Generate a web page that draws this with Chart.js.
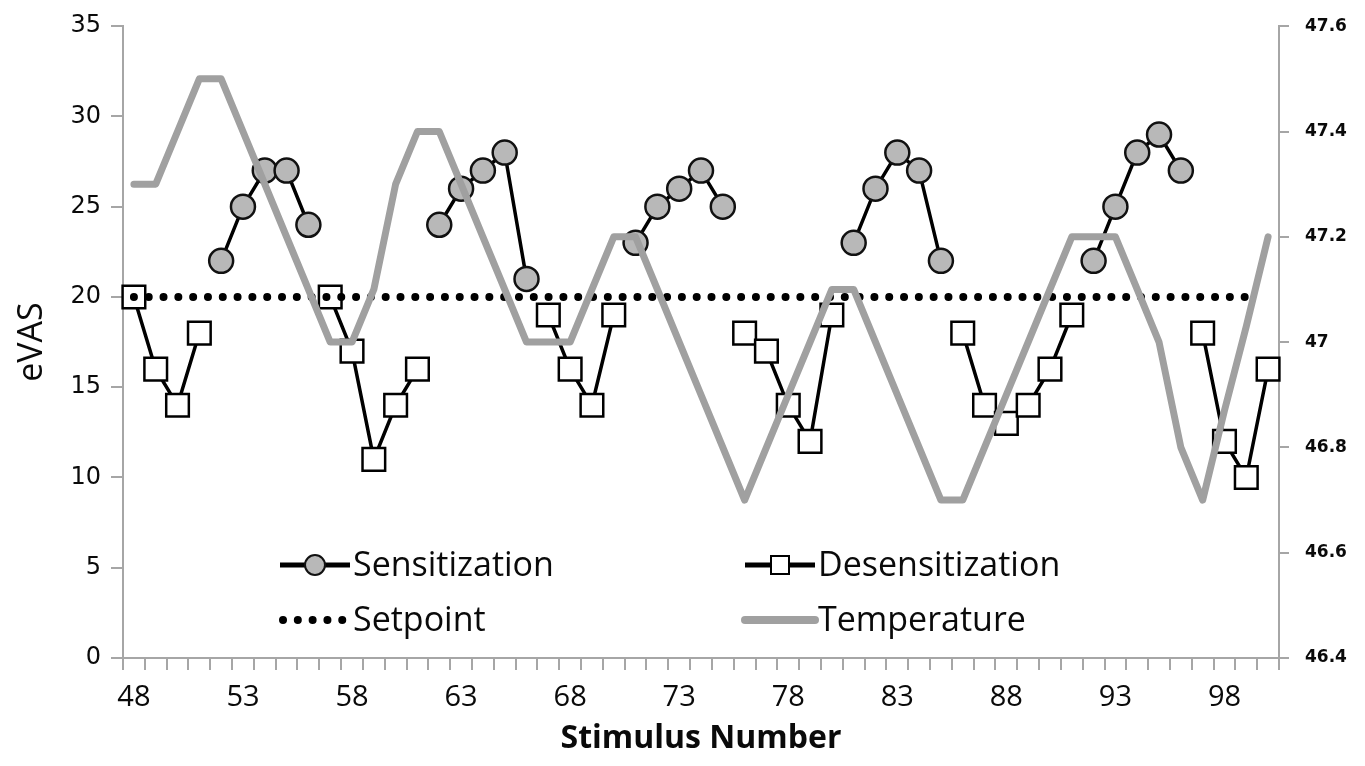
<!DOCTYPE html>
<html lang="en">
<head>
<meta charset="utf-8">
<title>eVAS by stimulus number</title>
<script src="https://cdn.jsdelivr.net/npm/chart.js"></script>
<style>
  body { margin:0; background:#fff; }
  #wrap { width:1365px; height:766px; }
</style>
</head>
<body>
<div id="wrap"><canvas id="myChart"></canvas></div>
<script>
// stimulus numbers on the x axis
var stimulus = [48,49,50,51,52,53,54,55,56,57,58,59,60,61,62,63,64,65,66,67,68,69,70,71,72,73,74,
                75,76,77,78,79,80,81,82,83,84,85,86,87,88,89,90,91,92,93,94,95,96,97,98,99,100];
var xTickLabels = ['48','53','58','63','68','73','78','83','88','93','98'];

// eVAS ratings (left axis)
var sensitization = [null,null,null,null,22,25,27,27,24,null,null,null,null,null,24,26,27,28,21,
                     null,null,null,null,23,25,26,27,25,null,null,null,null,null,23,26,28,27,22,
                     null,null,null,null,null,null,22,25,28,29,27,null,null,null,null];
var desensitization = [20,16,14,18,null,null,null,null,null,20,17,11,14,16,null,null,null,null,null,
                       19,16,14,19,null,null,null,null,null,18,17,14,12,19,null,null,null,null,null,
                       18,14,13,14,16,19,null,null,null,null,null,18,12,10,16];
var setpoint = [20,20,20,20,20,20,20,20,20,20,20,20,20,20,20,20,20,20,20,20,20,20,20,20,20,20,20,
                20,20,20,20,20,20,20,20,20,20,20,20,20,20,20,20,20,20,20,20,20,20,20,20,20,null];
var evasTicks = [0,5,10,15,20,25,30,35];

// stimulus temperature (right axis)
var temperature = [47.3,47.3,47.4,47.5,47.5,47.4,47.3,47.2,47.1,47.0,47.0,47.1,47.3,47.4,47.4,47.3,
                   47.2,47.1,47.0,47.0,47.0,47.1,47.2,47.2,47.1,47.0,46.9,46.8,46.7,46.8,46.9,47.0,
                   47.1,47.1,47.0,46.9,46.8,46.7,46.7,46.8,46.9,47.0,47.1,47.2,47.2,47.2,47.1,47.0,
                   46.8,46.7,46.87,47.03,47.2];
var tempTicks = ['46.4','46.6','46.8','47','47.2','47.4','47.6'];

var axisGrey = '#a6a6a6';
var txt = '#0a0a0a';

// legend drawn inside the plot area, two columns
var insideLegend = {
  id: 'insideLegend',
  afterDraw: function(chart) {
    var ctx = chart.ctx, a = chart.chartArea;
    var spots = {
      'Sensitization':   [a.left + 157, a.bottom - 93],
      'Desensitization': [a.left + 622, a.bottom - 93],
      'Setpoint':        [a.left + 157, a.bottom - 38],
      'Temperature':     [a.left + 622, a.bottom - 38]
    };
    var len = 70;
    chart.data.datasets.forEach(function(ds) {
      var p = spots[ds.label];
      if (!p) return;
      var x = p[0], y = p[1];
      ctx.save();
      ctx.strokeStyle = ds.borderColor;
      ctx.lineWidth = ds.label == 'Temperature' ? 8 : (ds.borderDash ? ds.borderWidth : 5);
      ctx.lineCap = ds.borderCapStyle || 'butt';
      ctx.setLineDash(ds.borderDash || []);
      ctx.beginPath();
      ctx.moveTo(x + (ds.borderDash ? 3 : 0), y);
      ctx.lineTo(x + len, y);
      ctx.stroke();
      ctx.setLineDash([]);
      if (ds.pointRadius > 0) {
        var cx = x + len / 2;
        ctx.fillStyle = ds.pointBackgroundColor;
        ctx.strokeStyle = ds.pointBorderColor;
        ctx.lineWidth = 2;
        ctx.beginPath();
        if (ds.pointStyle == 'rect') ctx.rect(cx - 9, y - 9, 18, 18);
        else ctx.arc(cx, y, 10, 0, Math.PI * 2);
        ctx.fill();
        ctx.stroke();
      }
      ctx.fillStyle = txt;
      ctx.font = '34px "Open Sans"';
      ctx.textBaseline = 'middle';
      ctx.textAlign = 'left';
      ctx.fillText(ds.label, x + len + 3, y + 1);
      ctx.restore();
    });
  }
};

var myChart = document.getElementById('myChart').getContext('2d');
var chart = new Chart(myChart, {
  type: 'line',
  data: {
    labels: stimulus,
    datasets: [
      {
        label: 'Temperature',
        data: temperature,
        yAxisID: 'y1',
        borderColor: '#a0a0a0',
        borderWidth: 7,
        borderJoinStyle: 'round',
        borderCapStyle: 'round',
        pointRadius: 0,
        tension: 0,
        order: 0
      },
      {
        label: 'Setpoint',
        data: setpoint,
        yAxisID: 'y',
        borderColor: '#000',
        borderWidth: 8,
        borderDash: [0.01, 14.8],
        borderCapStyle: 'round',
        pointRadius: 0,
        tension: 0,
        order: 1
      },
      {
        label: 'Sensitization',
        data: sensitization,
        yAxisID: 'y',
        borderColor: '#000',
        borderWidth: 3.5,
        pointStyle: 'circle',
        pointRadius: 12,
        pointBackgroundColor: '#b8b8b8',
        pointBorderColor: '#111',
        pointBorderWidth: 2.5,
        spanGaps: false,
        tension: 0,
        order: 2
      },
      {
        label: 'Desensitization',
        data: desensitization,
        yAxisID: 'y',
        borderColor: '#000',
        borderWidth: 3.5,
        pointStyle: 'rect',
        pointRadius: 16,
        pointBackgroundColor: '#fff',
        pointBorderColor: '#000',
        pointBorderWidth: 2.5,
        spanGaps: false,
        tension: 0,
        order: 3
      }
    ]
  },
  options: {
    responsive: true,
    maintainAspectRatio: false,
    animation: false,
    devicePixelRatio: 1,
    layout: { padding: { top: 24, left: 0, right: 0, bottom: 0 } },
    plugins: { legend: { display: false }, tooltip: { enabled: false } },
    scales: {
      x: {
        type: 'category',
        offset: true,
        afterFit: function(s) { s.height = 108; },
        grid: { display: true, drawOnChartArea: false, drawTicks: true, tickLength: 12, offset: true, color: axisGrey, lineWidth: 2 },
        border: { display: true, color: axisGrey, width: 2 },
        ticks: {
          autoSkip: false, maxRotation: 0, padding: 10, color: txt,
          font: { family: 'Open Sans', size: 29 },
          callback: function(v, i) {
            var s = String(stimulus[i]);
            return xTickLabels.indexOf(s) > -1 ? s : '';
          }
        },
        title: { display: true, text: 'Stimulus Number', color: txt, font: { family: 'Open Sans', size: 32, weight: 'bold' }, padding: { top: 0, bottom: 8 } }
      },
      y: {
        position: 'left',
        min: 0, max: 35,
        afterFit: function(s) { s.width = 123; },
        afterBuildTicks: function(s) { s.ticks = evasTicks.map(function(v) { return { value: v }; }); },
        grid: { display: true, drawOnChartArea: false, drawTicks: true, tickLength: 12, color: axisGrey, lineWidth: 2 },
        border: { display: true, color: axisGrey, width: 2 },
        ticks: { color: txt, padding: 10, font: { family: 'DejaVu Sans', size: 24 } },
        title: { display: true, text: 'eVAS', color: txt, font: { family: 'Open Sans', size: 34 }, padding: { top: 12, bottom: 0 } }
      },
      y1: {
        position: 'right',
        min: 46.4, max: 47.6,
        afterFit: function(s) { s.width = 86; },
        afterBuildTicks: function(s) { s.ticks = tempTicks.map(function(v) { return { value: parseFloat(v) }; }); },
        grid: { display: true, drawOnChartArea: false, drawTicks: true, tickLength: 10, color: axisGrey, lineWidth: 2 },
        border: { display: true, color: axisGrey, width: 2 },
        ticks: {
          color: txt, padding: 16,
          font: { family: 'DejaVu Sans', size: 17, weight: 'bold' },
          callback: function(v, i) { return tempTicks[i]; }
        }
      }
    }
  },
  plugins: [insideLegend]
});
</script>
</body>
</html>
